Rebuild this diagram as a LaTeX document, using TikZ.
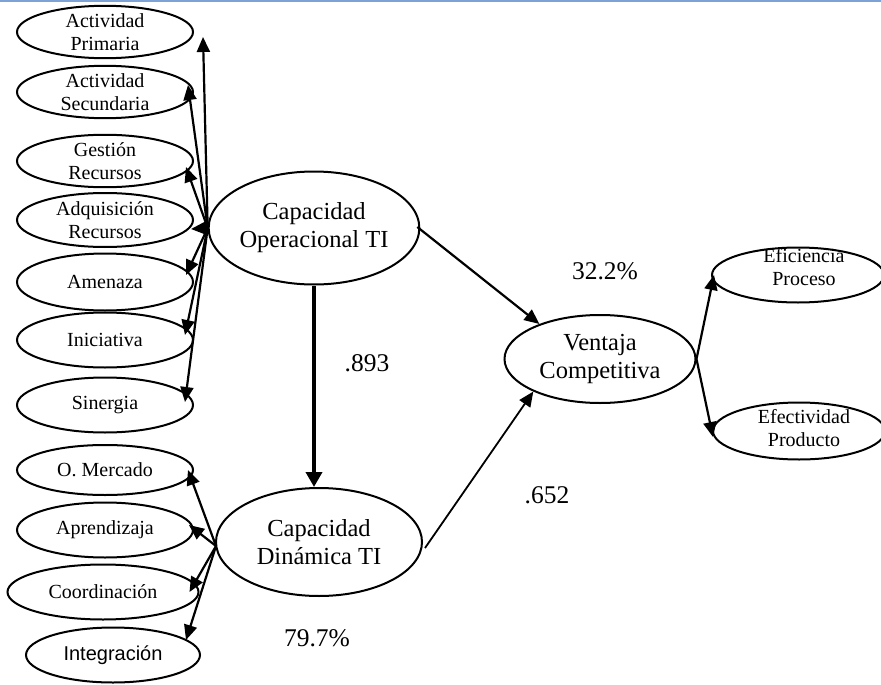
\documentclass[tikz,border=0pt]{standalone}
\usepackage{fontspec}
\setmainfont{Liberation Serif}
\newfontfamily\arialfont{Liberation Sans}
\usetikzlibrary{shapes.geometric,arrows.meta,calc}
\begin{document}
\begin{tikzpicture}[x=1pt,y=-1pt,
  ell/.style={ellipse,draw,line width=2pt,inner sep=0pt,align=center},
  sml/.style={ell,minimum width=176,minimum height=54,font=\fontsize{20}{23}\selectfont},
  big/.style={ell,font=\fontsize{24.5}{28}\selectfont},
  txt/.style={font=\fontsize{25.5}{30}\selectfont,inner sep=0pt},
  arr/.style={line width=2.2pt,-{Triangle[length=15pt,width=13pt]}},
  thickarr/.style={line width=3.6pt,-{Triangle[length=15pt,width=16pt]}}]
\useasboundingbox (0,0) rectangle (881,685);
\begin{scope}
\clip (0,0) rectangle (881,685);
% top rule
\fill[fill={rgb,255:red,125;green,163;blue,214}] (0,0) rectangle (881,2.5);

% indicators of the operational capability
\node[sml,minimum height=52] (ap) at (105,32) {Actividad\\Primaria};
\node[sml,minimum height=52] (as) at (105,92) {Actividad\\Secundaria};
\node[sml,minimum height=49] (gr) at (105,161) {Gestión\\Recursos};
\node[sml] (ar) at (105,220) {Adquisición\\Recursos};
\node[sml,minimum height=57] (am) at (105,282) {Amenaza};
\node[sml,minimum height=55] (ini) at (105,340) {Iniciativa};
\node[sml,minimum height=55] (si) at (105,405) {Sinergia};

% indicators of the dynamic capability
\node[sml,minimum height=50] (om) at (105,470) {O. Mercado};
\node[sml,minimum height=55] (apr) at (105,530) {Aprendizaja};
\node[sml,minimum width=191,minimum height=55] (coo) at (103,592) {Coordinación};
\node[sml,minimum width=174,minimum height=55,font=\arialfont\fontsize{20}{24}\selectfont] (ig) at (113,655) {Integración};

% latent constructs
\node[big,minimum width=194,minimum height=113] (co) at (314,228) {Capacidad\\Operacional TI};
\node[big,minimum width=206,minimum height=108] (cd) at (319,542) {Capacidad\\Dinámica TI};
\node[big,minimum width=191,minimum height=88] (vc) at (600,359) {Ventaja\\Competitiva};

% indicators of the competitive advantage
\node[ell,minimum width=172,minimum height=55,
  label={[font=\fontsize{20}{23}\selectfont,align=center,xshift=6pt,yshift=8pt]center:Eficiencia\\Proceso}] (ep) at (798,275) {};
\node[ell,minimum width=172,minimum height=57,
  label={[font=\fontsize{20}{23}\selectfont,align=center,xshift=5pt,yshift=3pt]center:Efectividad\\Producto}] (ef) at (799,431) {};

% loadings of the operational capability
\draw[arr] (co.west) -- ($(ap.east)+(9,5)$);
\draw[arr] (co.west) -- ($(as.east)+(-6,-7)$);
\draw[arr] (co.west) -- ($(gr.east)+(-8,6)$);
\draw[arr] (co.west) -- ($(ar.east)+(-3,9)$);
\draw[arr] (co.west) -- ($(am.east)+(-8,-7)$);
\draw[arr] (co.west) -- ($(ini.east)+(-9,-5)$);
\draw[arr] (co.west) -- ($(si.east)+(-9,-3)$);

% loadings of the dynamic capability
\coordinate (cdw) at ($(cd.west)+(1,4)$);
\draw[arr] (cdw) -- ($(om.east)+(-6,0)$);
\draw[arr] (cdw) -- ($(apr.east)+(-5,-5)$);
\draw[arr] (cdw) -- ($(coo.east)+(-10,0)$);
\draw[arr] (cdw) -- ($(ig.east)+(-15,-15)$);

% structural paths
\draw[thickarr] (co.south) -- (co.south |- cd.north);
\draw[arr] ($(co.east)+(-3,-1)$) -- (vc.150);
\draw[line width=1.8pt,-{Triangle[length=15pt,width=13pt]}] ($(cd.east)+(2,6)$) -- (vc.206);
\draw[arr] (vc.east) -- ($(ep.west)+(3,0)$);
\draw[arr] (vc.east) -- ($(ef.west)+(1,6)$);

% coefficients
\node[txt] (r1) at (605,271) {32.2\%};
\node[txt] (b1) at (367,363) {.893};
\node[txt] (b2) at (547,495) {.652};
\node[txt] (r2) at (317,638) {79.7\%};
\end{scope}
\end{tikzpicture}
\end{document}
